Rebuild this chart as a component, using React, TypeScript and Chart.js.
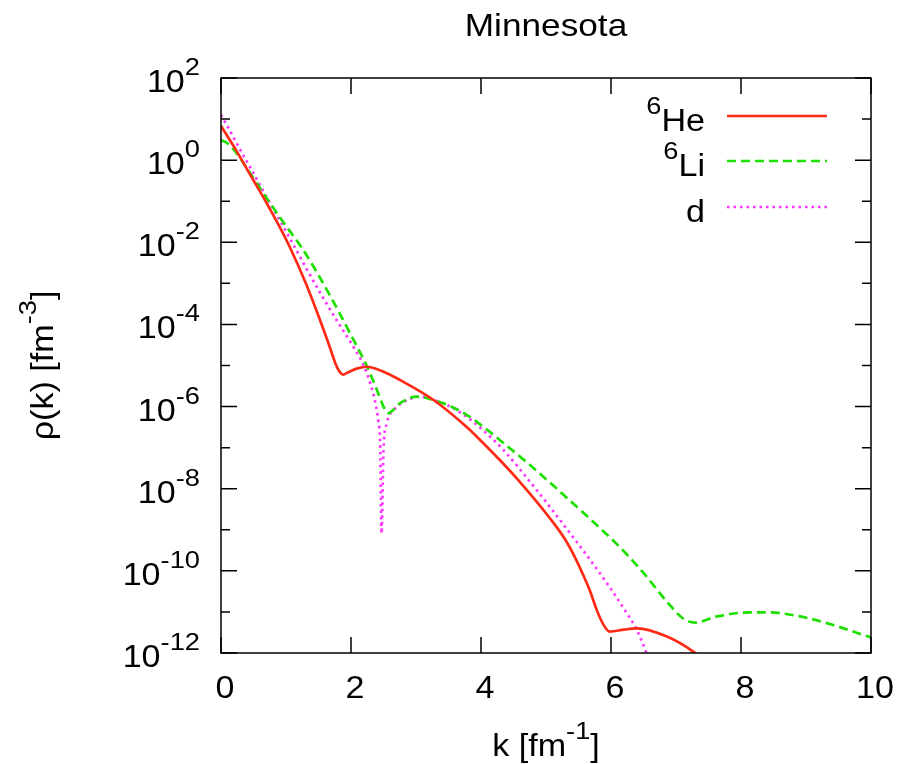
import React, { useEffect, useRef } from "react";
import { Chart, registerables } from "chart.js";

Chart.register(...registerables);

// ---------------- data ----------------
const chartTitle = "Minnesota";
const xTickValues = [0, 2, 4, 6, 8, 10];
const xTickLabels = ["0", "2", "4", "6", "8", "10"];
const yDecadeExps = [2, 1, 0, -1, -2, -3, -4, -5, -6, -7, -8, -9, -10, -11, -12];
const yLabelExps = [2, 0, -2, -4, -6, -8, -10, -12];

// 6He : k [fm^-1] and log10 rho(k)
const heK = [0, 0.24, 0.45, 0.7, 0.9, 1.06, 1.3, 1.52, 1.68, 1.76, 1.82, 1.88, 1.95, 2.1, 2.24, 2.5, 2.75, 3.27, 3.78, 4.04, 4.3, 4.55, 5.06, 5.3, 5.47, 5.6, 5.68, 5.78, 5.88, 5.98, 6.2, 6.4, 6.86, 7.27, 7.6];
const heLog10 = [0.83, 0.22, -0.36, -1.04, -1.62, -2.12, -2.98, -3.88, -4.58, -4.95, -5.14, -5.22, -5.17, -5.07, -5.03, -5.15, -5.35, -5.84, -6.5, -6.9, -7.32, -7.75, -8.72, -9.25, -9.75, -10.2, -10.5, -10.95, -11.3, -11.48, -11.43, -11.4, -11.6, -11.97, -12.4];

// 6Li
const liK = [0, 0.1, 0.2, 0.4, 0.6, 0.9, 1.25, 1.5, 1.73, 1.98, 2.24, 2.4, 2.5, 2.57, 2.75, 3.01, 3.27, 3.5, 3.78, 4.0, 4.34, 4.7, 5.06, 5.57, 6.09, 6.5, 6.86, 7.11, 7.29, 7.63, 8.14, 8.4, 8.91, 9.42, 9.88, 10];
const liLog10 = [0.49, 0.41, 0.25, -0.2, -0.68, -1.38, -2.15, -2.8, -3.45, -4.2, -5.0, -5.6, -6.0, -6.16, -5.92, -5.76, -5.84, -5.97, -6.2, -6.45, -6.88, -7.35, -7.85, -8.58, -9.35, -10.05, -10.75, -11.16, -11.26, -11.11, -11.01, -11.01, -11.11, -11.32, -11.56, -11.62];

// d
const dK = [0, 0.1, 0.29, 0.5, 0.7, 0.9, 1.11, 1.3, 1.57, 1.8, 2.0, 2.19, 2.3, 2.38, 2.42, 2.45, 2.47, 2.5, 2.55, 2.66, 2.87, 3.06, 3.27, 3.5, 3.78, 4.05, 4.34, 4.8, 5.32, 5.83, 6.19, 6.4, 6.52, 6.65];
const dLog10 = [1.1, 0.82, 0.27, -0.32, -0.9, -1.45, -2.05, -2.6, -3.35, -3.95, -4.45, -4.98, -5.45, -5.95, -6.35, -7.0, -9.09, -7.06, -6.41, -6.08, -5.84, -5.76, -5.84, -5.98, -6.25, -6.6, -7.05, -7.92, -8.98, -10.06, -10.9, -11.45, -11.9, -12.5];

const seriesBase = ["He", "Li", "d"];
const seriesSup = ["6", "6", ""];
const seriesColors = ["#ff2a16", "#1ee000", "#ff33ff"];
const seriesDash: number[][] = [[], [9, 5], [2.5, 4]];

// ---------------- text helpers ----------------
const FONT = '"Liberation Sans", Arial, Helvetica, sans-serif';
const FS = 31;
const SX = 1.1;
type Part = { t: string; sup?: boolean };

function setFont(ctx: CanvasRenderingContext2D, size: number) {
  ctx.font = `${size}px ${FONT}`;
}
function richWidth(ctx: CanvasRenderingContext2D, parts: Part[], size: number) {
  let w = 0;
  for (const p of parts) {
    setFont(ctx, p.sup ? size * 0.8 : size);
    w += ctx.measureText(p.t).width * SX;
  }
  return w;
}
function drawRich(
  ctx: CanvasRenderingContext2D,
  parts: Part[],
  x: number,
  y: number,
  size: number,
  align: "left" | "center" | "right"
) {
  const w = richWidth(ctx, parts, size);
  let cx = align === "left" ? x : align === "center" ? x - w / 2 : x - w;
  ctx.save();
  ctx.textAlign = "left";
  ctx.textBaseline = "alphabetic";
  ctx.fillStyle = "#000";
  for (const p of parts) {
    const s = p.sup ? size * 0.8 : size;
    setFont(ctx, s);
    const pw = ctx.measureText(p.t).width * SX;
    ctx.save();
    ctx.translate(cx, p.sup ? y - size * 0.55 : y);
    ctx.scale(SX, 1);
    ctx.fillText(p.t, 0, 0);
    ctx.restore();
    cx += pw;
  }
  ctx.restore();
}

const framePlugin = {
  id: "gnuplotFrame",
  afterDraw(chart: any) {
    const ctx: CanvasRenderingContext2D = chart.ctx;
    const { left, right, top, bottom } = chart.chartArea;
    const xs = chart.scales.x;
    const ys = chart.scales.y;
    ctx.save();
    // frame
    ctx.strokeStyle = "#000";
    ctx.lineWidth = 1.5;
    ctx.setLineDash([]);
    ctx.strokeRect(left, top, right - left, bottom - top);
    // y ticks (both sides)
    ctx.beginPath();
    for (const e of yDecadeExps) {
      const py = ys.getPixelForValue(Math.pow(10, e));
      const len = e % 2 === 0 ? 16 : 9;
      ctx.moveTo(left, py);
      ctx.lineTo(left + len, py);
      ctx.moveTo(right, py);
      ctx.lineTo(right - len, py);
    }
    // x ticks (bottom and top)
    for (const v of xTickValues) {
      const px = xs.getPixelForValue(v);
      ctx.moveTo(px, bottom);
      ctx.lineTo(px, bottom - 16);
      ctx.moveTo(px, top);
      ctx.lineTo(px, top + 16);
    }
    ctx.stroke();

    // y tick labels
    for (const e of yLabelExps) {
      const py = ys.getPixelForValue(Math.pow(10, e));
      drawRich(ctx, [{ t: "10" }, { t: String(e), sup: true }], 200, py + 14, FS, "right");
    }
    // x tick labels
    xTickValues.forEach((v, i) => {
      const px = xs.getPixelForValue(v);
      drawRich(ctx, [{ t: xTickLabels[i] }], px + 4, bottom + 45, FS, "center");
    });

    // title
    const midX = (left + right) / 2;
    drawRich(ctx, [{ t: chartTitle }], midX, 36, 32, "center");
    // x axis title
    drawRich(ctx, [{ t: "k [fm" }, { t: "-1", sup: true }, { t: "]" }], midX, 756, FS, "center");
    // y axis title (rotated)
    ctx.save();
    ctx.translate(53, (top + bottom) / 2);
    ctx.rotate(-Math.PI / 2);
    drawRich(ctx, [{ t: "\u03c1(k) [fm" }, { t: "-3", sup: true }, { t: "]" }], 0, 0, FS, "center");
    ctx.restore();

    // legend
    const rowY = [116, 161, 207];
    seriesBase.forEach((b, i) => {
      const parts: Part[] = [];
      if (seriesSup[i]) parts.push({ t: seriesSup[i], sup: true });
      parts.push({ t: b });
      drawRich(ctx, parts, 705, rowY[i] + 15, FS, "right");
      ctx.beginPath();
      ctx.strokeStyle = seriesColors[i];
      ctx.lineWidth = 2.7;
      ctx.setLineDash(seriesDash[i]);
      ctx.moveTo(727, rowY[i]);
      ctx.lineTo(827, rowY[i]);
      ctx.stroke();
    });
    ctx.restore();
  },
};

function makeData(ks: number[], logs: number[]) {
  return ks.map((k, i) => ({ x: k, y: Math.pow(10, logs[i]) }));
}

export default function App() {
  const ref = useRef<HTMLCanvasElement | null>(null);
  useEffect(() => {
    if (!ref.current) return;
    const kArrays = [heK, liK, dK];
    const logArrays = [heLog10, liLog10, dLog10];
    const chart = new Chart(ref.current, {
      type: "line",
      data: {
        datasets: seriesBase.map((b, i) => ({
          label: b,
          data: makeData(kArrays[i], logArrays[i]),
          borderColor: seriesColors[i],
          backgroundColor: seriesColors[i],
          borderWidth: 2.7,
          borderDash: seriesDash[i],
          pointRadius: 0,
          fill: false,
          cubicInterpolationMode: "monotone",
        })),
      },
      options: {
        animation: false,
        responsive: false,
        maintainAspectRatio: false,
        layout: { padding: { left: 221, right: 26, top: 78, bottom: 111 } },
        scales: {
          x: { type: "linear", min: 0, max: 10, display: false },
          y: { type: "logarithmic", min: 1e-12, max: 1e2, display: false },
        },
        plugins: {
          legend: { display: false },
          title: { display: false },
          tooltip: { enabled: false },
        },
      },
      plugins: [framePlugin],
    } as any);
    return () => chart.destroy();
  }, []);
  return (
    <div style={{ position: "absolute", left: 0, top: 0, width: 897, height: 764, background: "#fff" }}>
      <canvas ref={ref} width={897} height={764} />
    </div>
  );
}
